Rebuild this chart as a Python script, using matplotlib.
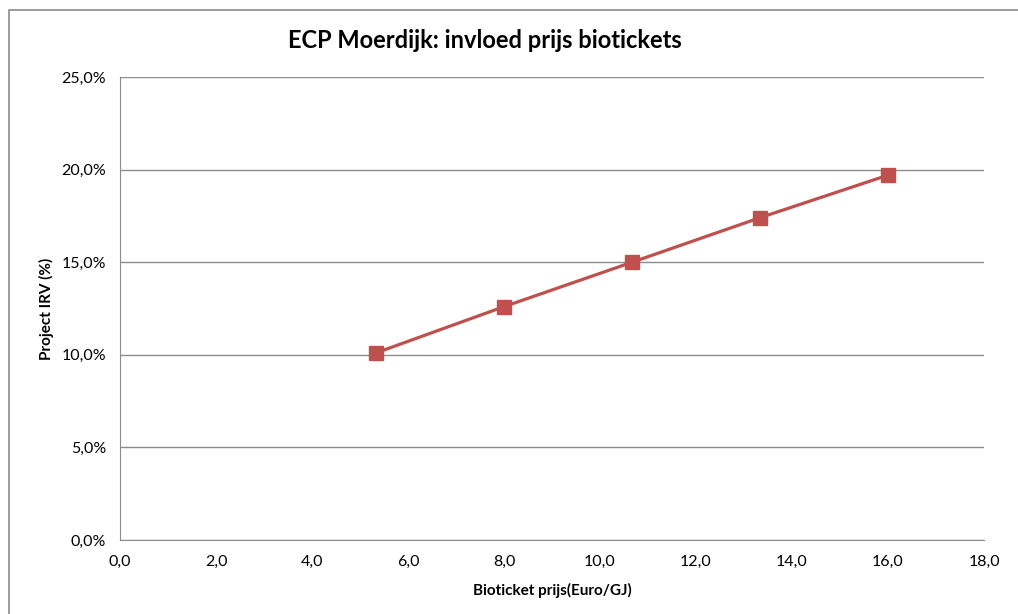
import matplotlib.pyplot as plt
from matplotlib.ticker import FuncFormatter, MultipleLocator
from matplotlib.patches import Rectangle

# data
biticket_prijs = [5.33, 8.0, 10.67, 13.33, 16.0]
project_irv = [10.1, 12.6, 15.0, 17.4, 19.7]

plt.rcParams['font.family'] = ['Lato', 'DejaVu Sans']

fig = plt.figure(figsize=(10.18, 6.14), dpi=100)
ax = fig.add_axes([120 / 1018, 1 - 540 / 614, 864 / 1018, 463 / 614])

# outer chart border
fig.patches.append(Rectangle((9 / 1018, -0.05), 1.1, 1 - 10 / 614 + 0.05, transform=fig.transFigure,
                             fill=False, edgecolor='#8c8c8c', linewidth=1.2))

ax.plot(biticket_prijs, project_irv, color='#C0504D', linewidth=2.3, marker='s', markersize=10,
        markeredgecolor='#C0504D', zorder=3)

ax.set_xlim(0, 18)
ax.set_ylim(0, 25)
ax.xaxis.set_major_locator(MultipleLocator(2))
ax.yaxis.set_major_locator(MultipleLocator(5))
ax.xaxis.set_major_formatter(FuncFormatter(lambda v, p: f"{v:.1f}".replace('.', ',')))
ax.yaxis.set_major_formatter(FuncFormatter(lambda v, p: f"{v:.1f}%".replace('.', ',')))
ax.tick_params(length=0, labelsize=11.5, colors='black', pad=10)
ax.tick_params(axis='x', pad=11)

ax.grid(axis='y', color='#8c8c8c', linewidth=1)
ax.set_axisbelow(True)
for s in ['top', 'right']:
    ax.spines[s].set_visible(False)
for s in ['left', 'bottom']:
    ax.spines[s].set_color('#8c8c8c')

ax.set_xlabel("Bioticket prijs(Euro/GJ)", fontsize=11, fontweight='bold', labelpad=10)
ax.set_ylabel("Project IRV (%)", fontsize=11, fontweight='bold', labelpad=5)
fig.text(485 / 1018, 1 - 40 / 614, "ECP Moerdijk: invloed prijs biotickets", fontsize=17, fontweight='bold',
         ha='center', va='center')

fig.savefig("out.png", dpi=100)
